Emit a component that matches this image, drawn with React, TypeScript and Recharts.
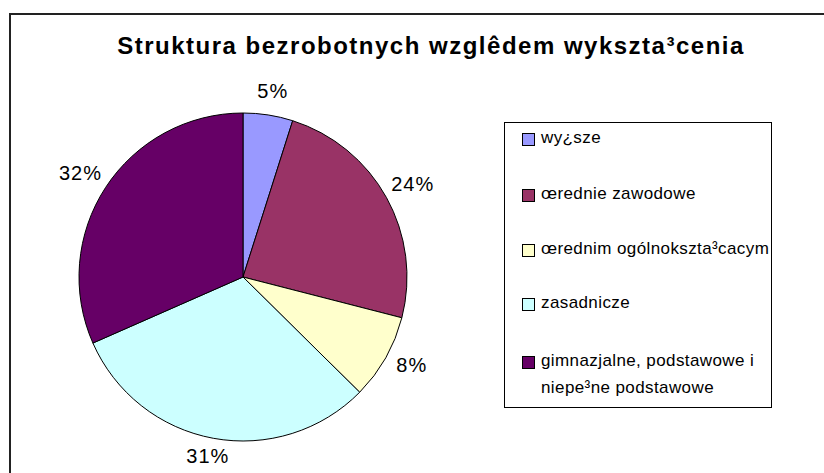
import React from 'react'
import { PieChart, Pie, Cell, Legend } from 'recharts'

const categories = [
  'wy¿sze',
  'œrednie zawodowe',
  'œrednim ogólnokszta³cacym',
  'zasadnicze',
  'gimnazjalne, podstawowe i niepe³ne podstawowe',
]
const shares = [4.9, 24.1, 8.4, 31.0, 31.6]
const colors = ['#9999FF', '#993366', '#FFFFCC', '#CCFFFF', '#660066']
const title = 'Struktura bezrobotnych wzglêdem wykszta³cenia'

const data = categories.map((name, i) => ({ name, value: shares[i] }))
const total = shares.reduce((a, b) => a + b, 0)

const FONT = '"Liberation Sans", Arial, sans-serif'
const RAD = Math.PI / 180

// label box sits just outside the rim, pushed out by half its size
const renderLabel = (props: any) => {
  const { cx, cy, midAngle, outerRadius, value } = props
  const cos = Math.cos(-midAngle * RAD)
  const sin = Math.sin(-midAngle * RAD)
  const r = outerRadius + 10
  const x = cx + r * cos + cos * 20
  const y = cy + r * sin + sin * 11 - 3
  return (
    <text x={x} y={y} textAnchor="middle" dominantBaseline="central" fill="#000" fontSize={20} fontFamily={FONT} letterSpacing={1}>
      {`${Math.round((value / total) * 100)}%`}
    </text>
  )
}

const rowTops = [128, 184, 239, 293, 351]

const renderLegend = () => (
  <div style={{ position: 'relative', width: 268, height: 286, border: '1px solid #000', boxSizing: 'border-box', background: '#fff', fontFamily: FONT, fontSize: 17, letterSpacing: 0.4, color: '#000' }}>
    {data.map((d, i) => (
      <div key={d.name} style={{ position: 'absolute', left: 17, top: rowTops[i] - 122, display: 'flex', alignItems: 'flex-start', width: 248 }}>
        <span style={{ display: 'inline-block', width: 11, height: 11, marginTop: 4, background: colors[i], border: '1px solid #000', flexShrink: 0 }} />
        <span style={{ marginLeft: 6, lineHeight: '27px', marginTop: -5 }}>{d.name}</span>
      </div>
    ))}
  </div>
)

export default function App() {
  return (
    <div style={{ position: 'absolute', left: 0, top: 0, width: 824, height: 473, overflow: 'hidden', background: '#fff' }}>
      <div style={{ position: 'absolute', left: 9, top: 13, width: 840, height: 480, border: '2px solid #222' }} />
      <div style={{ position: 'absolute', left: 0, top: 32, width: 862, textAlign: 'center', fontFamily: FONT, fontWeight: 'bold', fontSize: 24, letterSpacing: 1.5 }}>
        {title}
      </div>
      <div style={{ position: 'absolute', left: 0, top: 0 }}>
        <PieChart width={824} height={473} margin={{ top: 0, right: 0, bottom: 0, left: 0 }}>
          <Pie
            data={data}
            dataKey="value"
            nameKey="name"
            cx={243}
            cy={277}
            outerRadius={164}
            startAngle={90}
            endAngle={-270}
            stroke="#000"
            strokeWidth={1}
            label={renderLabel}
            labelLine={false}
            isAnimationActive={false}
          >
            {data.map((d, i) => (
              <Cell key={d.name} fill={colors[i]} />
            ))}
          </Pie>
          <Legend content={renderLegend} wrapperStyle={{ position: 'absolute', left: 504, top: 122, width: 268, height: 286 }} />
        </PieChart>
      </div>
    </div>
  )
}
